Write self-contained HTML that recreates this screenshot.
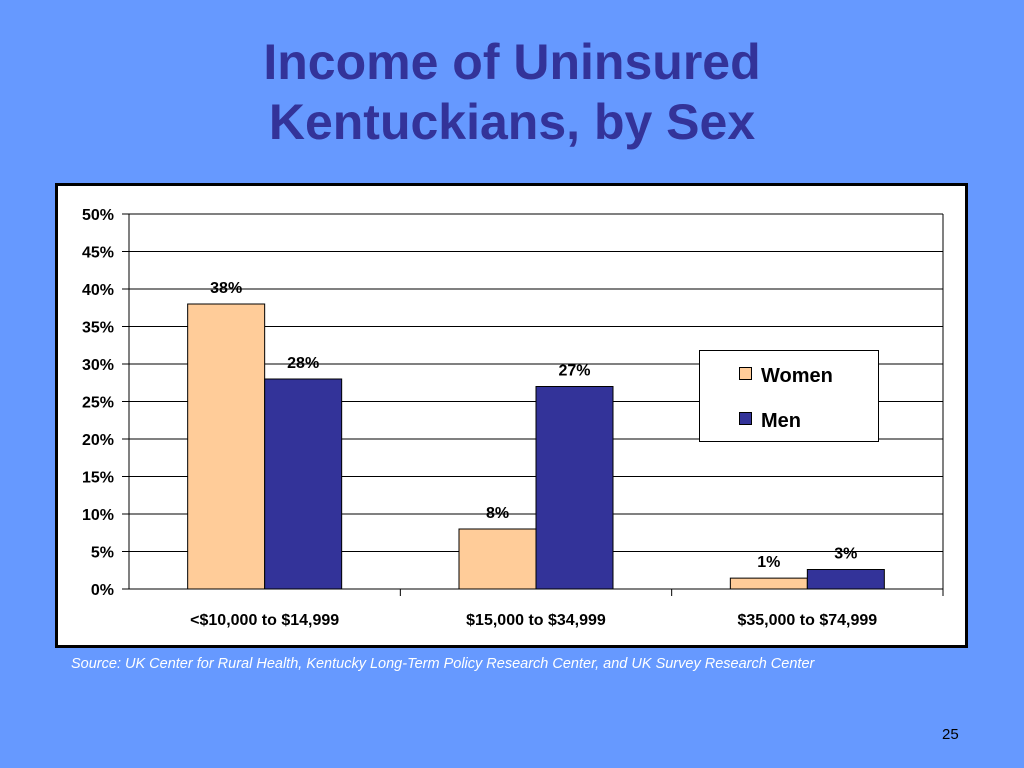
<!DOCTYPE html>
<html><head><meta charset="utf-8"><style>
body{margin:0;width:1024px;height:768px;background:#6699FF;position:relative;overflow:hidden;font-family:"Liberation Sans",Arial,sans-serif}
#title{position:absolute;left:0;width:1024px;top:32px;text-align:center;color:#333399;font-weight:bold;font-size:50px;line-height:60px}
#src{position:absolute;left:71px;top:656px;color:#fff;font-style:italic;font-size:14.5px}
#pg{position:absolute;left:942px;top:726px;color:#000;font-size:15px}
svg{position:absolute;left:0;top:0}
</style></head><body>
<div id="title">Income of Uninsured<br>Kentuckians, by Sex</div>
<svg width="1024" height="768" id="chart">
<rect x="56.5" y="184.5" width="910" height="462" fill="#fff" stroke="#000" stroke-width="3"/>
<g id="g"></g>
</svg>
<div id="src">Source: UK Center for Rural Health, Kentucky Long-Term Policy Research Center, and UK Survey Research Center</div>
<div id="pg">25</div>
<script>
const categories=["<$10,000 to $14,999","$15,000 to $34,999","$35,000 to $74,999"];
const women=[38,8,1.45];
const men=[28,27,2.6];
const womenLabels=["38%","8%","1%"];
const menLabels=["28%","27%","3%"];
const ticks=[0,5,10,15,20,25,30,35,40,45,50];
const NS="http://www.w3.org/2000/svg",g=document.getElementById('g');
const L=129,R=943,T=214,B=589;
const y=v=>B-(v/50)*(B-T);
const gw=(R-L)/categories.length,bw=77;
function el(t,a,txt){const e=document.createElementNS(NS,t);for(const k in a)e.setAttribute(k,a[k]);if(txt!=null)e.textContent=txt;g.appendChild(e);return e;}
ticks.forEach(t=>{
 const l=el('line',{x1:t?L:122,x2:R,y1:y(t),y2:y(t),stroke:'#000','stroke-width':1});
 
 
 if(t){const k=el('line',{x1:122,x2:L,y1:y(t),y2:y(t),stroke:'#000'});}
 const tx=el('text',{x:114,y:y(t)+6,'text-anchor':'end','font-size':16,'font-weight':'bold'},t+'%');
 
 
});
let ax=el('line',{x1:L,x2:L,y1:T,y2:B,stroke:'#000'});
ax=el('line',{x1:R,x2:R,y1:T,y2:B,stroke:'#000'});
categories.forEach((c,i)=>{
 const cx=L+gw*(i+0.5);
 const tk=el('line',{x1:L+gw*(i+1),x2:L+gw*(i+1),y1:B,y2:B+7,stroke:'#000'});
 
 
 const b1=el('rect',{x:cx-bw,y:y(women[i]),width:bw,height:B-y(women[i]),fill:'#FFCC99',stroke:'#000','stroke-width':1});
 
 
 const b2=el('rect',{x:cx,y:y(men[i]),width:bw,height:B-y(men[i]),fill:'#333399',stroke:'#000','stroke-width':1});
 
 
 const l1=el('text',{x:cx-bw/2,y:y(women[i])-11,'text-anchor':'middle','font-size':16,'font-weight':'bold'},womenLabels[i]);
 
 
 const l2=el('text',{x:cx+bw/2,y:y(men[i])-11,'text-anchor':'middle','font-size':16,'font-weight':'bold'},menLabels[i]);
 
 
 const xl=el('text',{x:cx,y:625,'text-anchor':'middle','font-size':16,'font-weight':'bold'},c);
 
 
});
const lg=el('rect',{x:699.5,y:350.5,width:179,height:91,fill:'#fff',stroke:'#000'});


[['Women','#FFCC99',375],['Men','#333399',420]].forEach(([n,c,yy])=>{
 const s=el('rect',{x:739.5,y:yy-7.5,width:12,height:12,fill:c,stroke:'#000'});
 
 
 const t=el('text',{x:761,y:yy+7,'font-size':20,'font-weight':'bold'},n);
 
 
});
</script>
</body></html>
